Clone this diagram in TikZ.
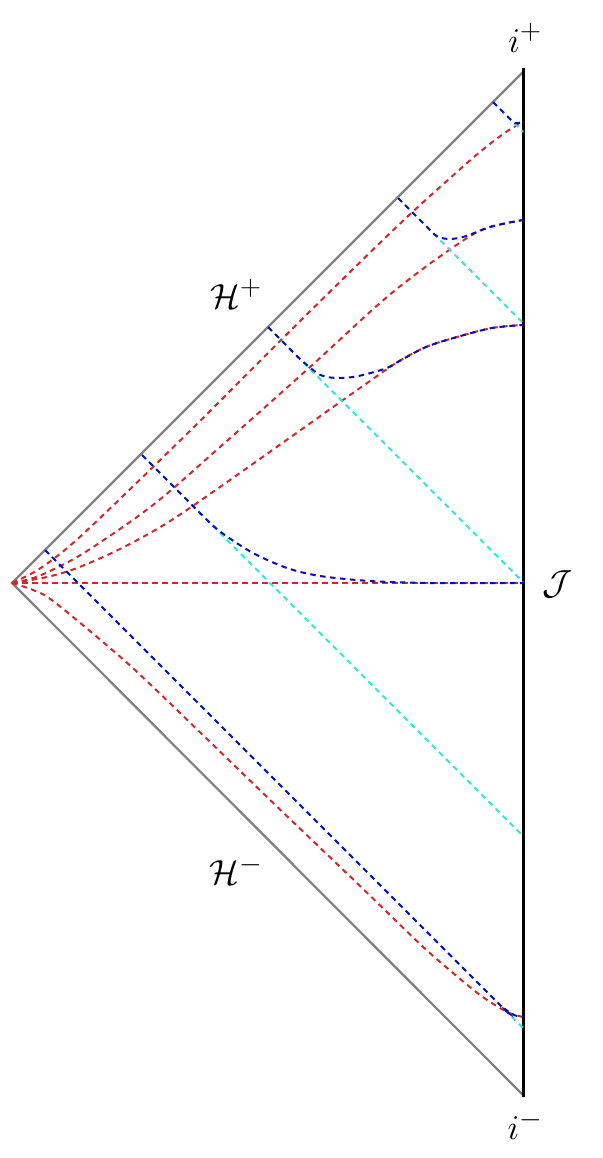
\documentclass[tikz,border=0pt]{standalone}
\definecolor{rc}{RGB}{212,38,42}
\definecolor{bc}{RGB}{12,12,178}
\definecolor{cc}{RGB}{50,228,228}
\newcommand{\biglab}[1]{\scalebox{1.4}{\Huge$#1$}}
\begin{document}
\begin{tikzpicture}[x=1pt,y=-1pt,
  horizon/.style={draw=gray, line width=2.2pt},
  bnd/.style={draw=black, line width=3pt},
  rline/.style={draw=rc, line width=2pt, dash pattern=on 5.5pt off 4.5pt},
  bline/.style={draw=bc, line width=2pt, dash pattern=on 5.5pt off 4.5pt},
  cline/.style={draw=cc, line width=2pt, dash pattern=on 5.5pt off 4.5pt},
  lab/.style={inner sep=0pt}]
\useasboundingbox (0,0) rectangle (602,1158);
\coordinate (L) at (12,583);
\coordinate (T) at (523,72);
\coordinate (Ttop) at (523,68);
\coordinate (B) at (523,1095);
\coordinate (Bbot) at (523,1097);
\coordinate (J) at (523,583);
% horizons and boundary
\draw[horizon] (T) -- (L) -- (B);
\draw[bnd] (Ttop) -- (Bbot);
% red slices
\draw[rline] (L) -- (J);
\draw[rline] plot[smooth, tension=0.55] coordinates {(12,583) (38.5,569.5) (72.5,543.5) (124,495) (200,421) (275,346) (350.5,271.5) (406.5,217.5) (448.5,179.5) (480.5,151.5) (506,132) (523,122)};
\draw[rline] plot[smooth, tension=0.55] coordinates {(12,583) (30,579) (50,571) (87,551) (153,505) (220,447) (310,367) (380,303) (420,271) (455,246) (477,232) (490,227) (507,223) (523,220)};
\draw[rline] plot[smooth, tension=0.55] coordinates {(12,583) (47,577) (77,568) (120,549) (167,523) (220,487) (288,439) (343,400) (370,381) (398.5,361.5) (426,347) (457,337) (492,328) (523,325)};
\draw[rline] plot[smooth, tension=0.55] coordinates {(12,583) (33,590) (53,601) (110,648) (153,687) (267,797) (359.5,885.5) (420,944) (453,973) (480,995) (500,1008) (512,1014) (523,1017)};
% cyan straight rays
\coordinate (h1) at (493,102);
\coordinate (h2) at (398,198);
\coordinate (h3) at (268,327);
\coordinate (h4) at (142,455);
\coordinate (h5) at (45,550);
\coordinate (c1) at (523,132);
\coordinate (c2) at (523,323);
\coordinate (c3) at (523,582);
\coordinate (c4) at (523,836);
\coordinate (c5) at (523,1028);
\draw[cline] (h1) -- (c1);
\draw[cline] (h2) -- (c2);
\draw[cline] (h3) -- (c3);
\draw[cline] (h4) -- (c4);
\draw[cline] (h5) -- (c5);
% blue rays
\draw[bline] plot[smooth, tension=0.5] coordinates {(493,102) (508,117) (515,123) (523,122)};
\draw[bline] plot[smooth, tension=0.5] coordinates {(398,198) (414,214) (430,230) (438,237) (450,239) (463,237) (477,232) (490,227) (507,223) (523,220)};
\draw[bline] plot[smooth, tension=0.5] coordinates {(268,327) (284,343) (300,359) (317,373) (327,377) (340,378) (353,377) (367,374) (387,368) (398.5,361.5) (426,347) (457,337) (492,328) (523,325)};
\draw[bline] plot[smooth, tension=0.5] coordinates {(142,455) (175,488) (205,518) (222,533) (253,553) (287,568) (320,576) (370,581) (430,583) (523,583)};
\draw[bline] plot[smooth, tension=0.5] coordinates {(45,550) (270,775) (490,995) (505,1009) (514,1015) (523,1017)};
% labels
\node[lab] (iplus) at (525,38) {\biglab{i^{+}}};
\node[lab] (Hplus) at (236,294) {\biglab{\mathcal{H}^{+}}};
\node[lab] (scri) at (558,584) {\biglab{\mathcal{J}}};
\node[lab] (Hminus) at (236,870) {\biglab{\mathcal{H}^{-}}};
\node[lab] (iminus) at (525,1125) {\biglab{i^{-}}};
\end{tikzpicture}
\end{document}
